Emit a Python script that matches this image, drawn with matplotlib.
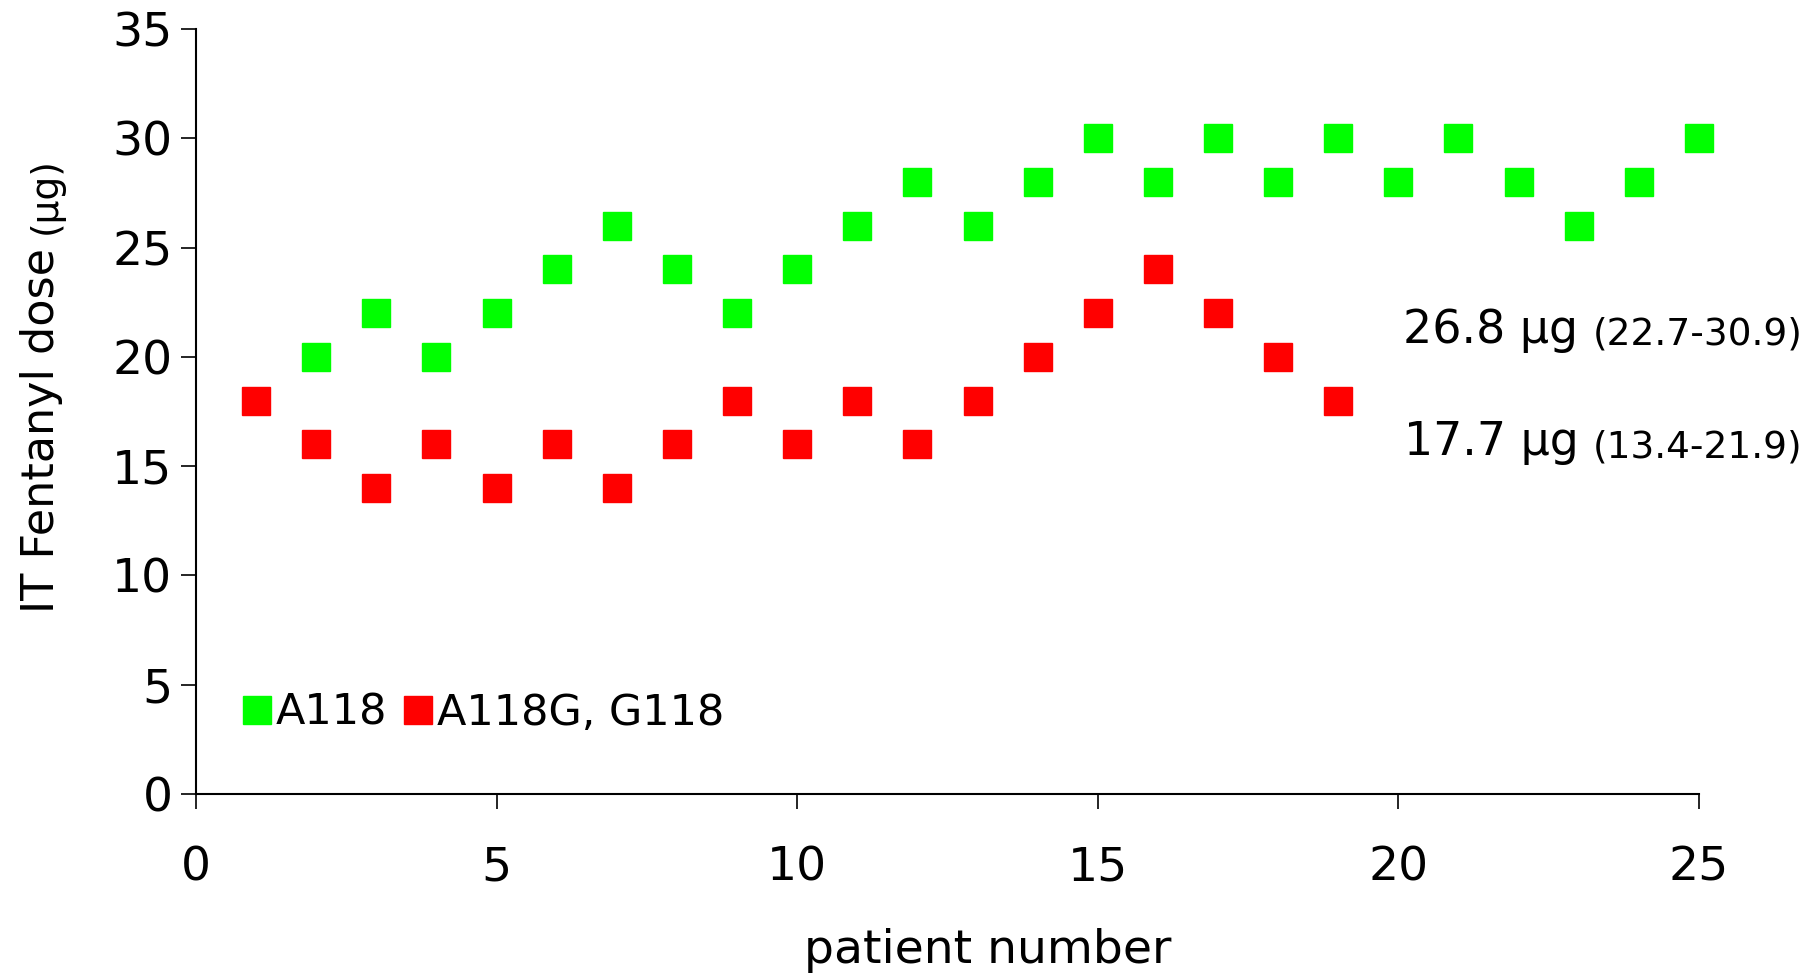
import matplotlib
matplotlib.use("Agg")
import matplotlib.pyplot as plt

# patients with A118 genotype
a118_patient = [2, 3, 4, 5, 6, 7, 8, 9, 10, 11, 12, 13, 14, 15, 16, 17, 18, 19, 20, 21, 22, 23, 24, 25]
a118_dose = [20, 22, 20, 22, 24, 26, 24, 22, 24, 26, 28, 26, 28, 30, 28, 30, 28, 30, 28, 30, 28, 26, 28, 30]

# patients with A118G / G118 genotype
g118_patient = [1, 2, 3, 4, 5, 6, 7, 8, 9, 10, 11, 12, 13, 14, 15, 16, 17, 18, 19]
g118_dose = [18, 16, 14, 16, 14, 16, 14, 16, 18, 16, 18, 16, 18, 20, 22, 24, 22, 20, 18]

series_labels = ["A118", "A118G, G118"]
series_colors = ["#00ff00", "#ff0000"]
mean_texts = ["26.8 µg ", "17.7 µg "]
range_texts = ["(22.7-30.9)", "(13.4-21.9)"]

plt.rcParams["font.family"] = ["DejaVu Sans"]

fig = plt.figure(figsize=(18.2, 9.76), dpi=100)
ax = fig.add_axes([0.1077, 0.1865, 0.8258, 0.7838])

ax.plot(a118_patient, a118_dose, linestyle="none", marker="s", markersize=20,
        color=series_colors[0], label=series_labels[0], clip_on=False)
ax.plot(g118_patient, g118_dose, linestyle="none", marker="s", markersize=20,
        color=series_colors[1], label=series_labels[1], clip_on=False)

ax.set_xlim(0, 25)
ax.set_ylim(0, 35)
ax.set_xticks(range(0, 26, 5))
ax.set_yticks(range(0, 36, 5))
ax.spines["top"].set_visible(False)
ax.spines["right"].set_visible(False)
ax.spines["left"].set_linewidth(1.5)
ax.spines["bottom"].set_linewidth(1.5)
ax.tick_params(axis="both", direction="out", length=11, width=1.2, labelsize=34)
ax.tick_params(axis="x", pad=26)
ax.tick_params(axis="y", pad=6)

ax.set_xlabel("patient number", fontsize=34)
ax.xaxis.set_label_coords(0.527, -0.175)

# y label: main part and smaller unit
ylab = fig.text(0.023, 0.372, "IT Fentanyl dose ", rotation=90, fontsize=32,
                ha="center", va="bottom")
ax.annotate("(µg)", xy=(1, 1), xycoords=ylab, rotation=90, fontsize=27,
            ha="right", va="bottom", annotation_clip=False)

# means with ranges, anchored at the right edge
for i, y in enumerate([0.657, 0.542]):
    r = fig.text(0.9905, y, range_texts[i], fontsize=27, ha="right", va="center")
    ax.annotate(mean_texts[i], xy=(0, 0), xycoords=r, fontsize=33,
                ha="right", va="bottom", annotation_clip=False)

ax.legend(loc="center left", bbox_to_anchor=(0.033, 0.106), ncol=2, frameon=False,
          fontsize=31, handlelength=0.55, handletextpad=0.15, columnspacing=0.45,
          borderpad=0, borderaxespad=0, markerscale=1.0)

fig.savefig("out.png", dpi=100)
